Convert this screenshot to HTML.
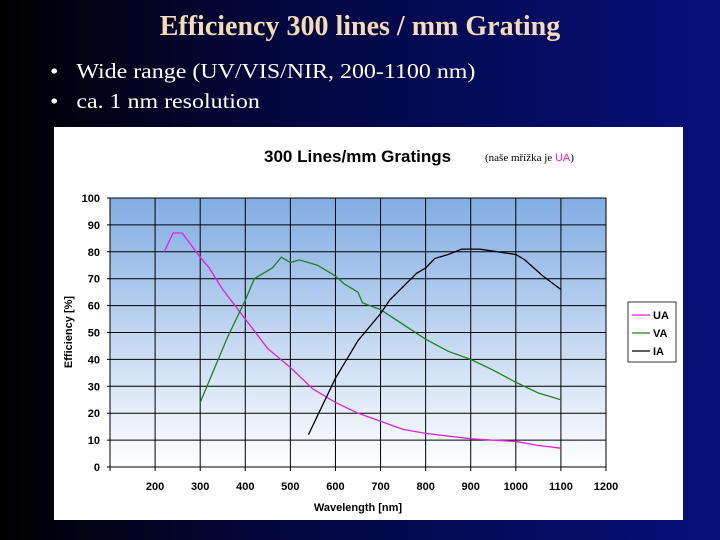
<!DOCTYPE html>
<html><head><meta charset="utf-8"><style>
body{margin:0;width:720px;height:540px;overflow:hidden;background:linear-gradient(90deg,#000 0%,#03063a 35%,#06107a 100%);font-family:"Liberation Serif",serif;position:relative}
#title{position:absolute;left:0;width:720px;top:11px;text-align:center;color:#f5dcb4;font-size:28px;font-weight:bold}
.b{position:absolute;left:50px;color:#fff;font-size:21px;transform:scaleX(1.14);transform-origin:0 0;white-space:nowrap}
#panel{position:absolute;left:54px;top:127px;width:629px;height:393px;background:#fff}
</style></head><body>
<div id="title">Efficiency 300 lines / mm Grating</div>
<div class="b" style="top:59px">•&nbsp;&nbsp;&nbsp;Wide range (UV/VIS/NIR, 200-1100 nm)</div>
<div class="b" style="top:89px">•&nbsp;&nbsp;&nbsp;ca. 1 nm resolution</div>
<div id="panel"></div>
<svg id="chart" width="720" height="540" style="position:absolute;left:0;top:0">
<defs><linearGradient id="bg" x1="0" y1="0" x2="0" y2="1"><stop offset="0" stop-color="#82ade3"/><stop offset="1" stop-color="#ffffff"/></linearGradient></defs>
</svg>
<script>
const uaX=[220,240,260,300,320,350,400,450,500,550,600,650,700,750,800,850,900,950,1000,1050,1100];
const uaY=[80,87,87,78,74,66,55,44,37,29,24,20,17,14,12.5,11.5,10.5,10,9.5,8,7];
const vaX=[300,330,360,400,420,440,460,480,500,520,560,600,620,650,660,700,750,800,850,900,950,1000,1050,1100];
const vaY=[24,36,48,62,70,72,74,78,76,77,75,71,68,65,61,58.5,53,47.5,43,40,36,31.5,27.5,25];
const iaX=[540,600,650,700,720,750,780,800,820,850,880,920,960,1000,1020,1060,1100];
const iaY=[12,33,47,57,62,67,72,74,77.5,79,81,81,80,79,77,71,66];
const xTicks=[200,300,400,500,600,700,800,900,1000,1100,1200];
const yTicks=[0,10,20,30,40,50,60,70,80,90,100];
const NS="http://www.w3.org/2000/svg";
const svg=document.getElementById('chart');
const L=110,R=606,T=198,B=467;
const sx=v=>L+(v-100)/(1100)*(R-L);
const sy=v=>B-v/100*(B-T);
function mk(t,a,p){const e=document.createElementNS(NS,t);for(const k in a)e.setAttribute(k,a[k]);(p||svg).appendChild(e);return e;}
const bg=mk('rect',{x:L,y:T,width:R-L,height:B-T,fill:'url(#bg)'});


yTicks.forEach(v=>{
 const g=mk('line',{x1:L-3,x2:R,y1:sy(v),y2:sy(v),stroke:'#000','stroke-width':1});
 
 
 const t=mk('text',{x:L-10,y:sy(v)+4,'text-anchor':'end','font-size':11,'font-weight':'bold','font-family':'Liberation Sans, sans-serif'});
 t.textContent=v;
 
 
});
xTicks.forEach(v=>{
 const g=mk('line',{x1:sx(v),x2:sx(v),y1:T,y2:B+4,stroke:'#000','stroke-width':1});
 
 
 const t=mk('text',{x:sx(v),y:B+23,'text-anchor':'middle','font-size':11,'font-weight':'bold','font-family':'Liberation Sans, sans-serif'});
 t.textContent=v;
 
 
});
const ax=mk('line',{x1:L,x2:L,y1:T,y2:B+4,stroke:'#000'});


function series(xs,ys,c,name){
 const p=mk('polyline',{points:xs.map((x,i)=>sx(x)+','+sy(ys[i])).join(' '),fill:'none',stroke:c,'stroke-width':1.3});
 
 
}
series(uaX,uaY,'#e020e0','ua-line');
series(vaX,vaY,'#208020','va-line');
series(iaX,iaY,'#000','ia-line');
const tt=mk('text',{x:264,y:162,'font-size':17,'font-weight':'bold','font-family':'Liberation Sans, sans-serif'});
tt.textContent='300 Lines/mm Gratings';


const nt=mk('text',{x:485,y:161,'font-size':11,'font-family':'Liberation Serif, serif'});
nt.innerHTML='(naše mřížka je <tspan fill="#e020e0" font-family="Liberation Sans, sans-serif">UA</tspan>)';


const xt=mk('text',{x:358,y:511,'text-anchor':'middle','font-size':11,'font-weight':'bold','font-family':'Liberation Sans, sans-serif'});
xt.textContent='Wavelength [nm]';


const yt=mk('text',{x:72,y:332,'text-anchor':'middle','font-size':11,'font-weight':'bold','font-family':'Liberation Sans, sans-serif',transform:'rotate(-90 72 332)'});
yt.textContent='Efficiency [%]';


const lg=mk('rect',{x:628,y:302,width:48,height:60,fill:'#fff',stroke:'#000','stroke-width':0.8});


[['UA','#e020e0'],['VA','#208020'],['IA','#000']].forEach((d,i)=>{
 const y=315+i*18;
 const l=mk('line',{x1:632,x2:650,y1:y,y2:y,stroke:d[1],'stroke-width':1.3});
 
 
 const t=mk('text',{x:653,y:y+4,'font-size':11,'font-weight':'bold','font-family':'Liberation Sans, sans-serif'});
 t.textContent=d[0];
 
 
});
</script>
</body></html>
